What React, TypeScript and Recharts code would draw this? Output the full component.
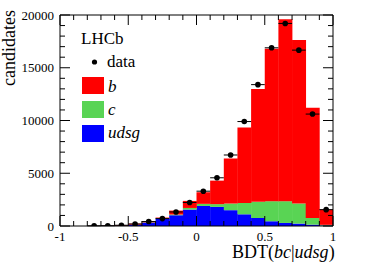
import React from 'react';
import { ComposedChart, Bar, Scatter, XAxis, YAxis, ErrorBar } from 'recharts';

// bin centres of the BDT(bc|udsg) histogram, width 0.1
const binCenters = [-0.95, -0.85, -0.75, -0.65, -0.55, -0.45, -0.35, -0.25, -0.15, -0.05,
  0.05, 0.15, 0.25, 0.35, 0.45, 0.55, 0.65, 0.75, 0.85, 0.95];
const udsgCounts = [0, 0, 5, 10, 30, 120, 320, 700, 1020, 1560, 1900, 1810, 1500, 1110, 760, 450, 290, 230, 130, 50];
const cCounts = [0, 0, 0, 0, 5, 10, 30, 40, 70, 150, 200, 260, 630, 1080, 1530, 1900, 2060, 1900, 630, 60];
const bCounts = [0, 0, 10, 20, 45, 90, 100, 60, 370, 670, 1100, 2230, 4270, 7140, 10700, 14450, 17240, 15490, 10440, 1450];

// data points
const dataX = [-0.75, -0.65, -0.55, -0.45, -0.35, -0.25, -0.15, -0.05, 0.05, 0.15,
  0.25, 0.35, 0.45, 0.55, 0.65, 0.75, 0.85, 0.95];
const dataCounts = [20, 30, 70, 190, 420, 700, 1330, 2230, 3300, 4570,
  6730, 9900, 13400, 16890, 19200, 16670, 10610, 1550];
const binHalfWidth = 0.05;

const xTicks = [-1, -0.9, -0.8, -0.7, -0.6, -0.5, -0.4, -0.3, -0.2, -0.1, 0,
  0.1, 0.2, 0.3, 0.4, 0.5, 0.6, 0.7, 0.8, 0.9, 1];
const yTicks = [0, 1000, 2000, 3000, 4000, 5000, 6000, 7000, 8000, 9000, 10000,
  11000, 12000, 13000, 14000, 15000, 16000, 17000, 18000, 19000, 20000];

const RED = '#ff0000';
const GREEN = '#59d454';
const BLUE = '#0000ff';
const FONT = '"Liberation Serif", "DejaVu Serif", serif';
const serif = { fontFamily: FONT };

const histData = binCenters.map((bin, i) => ({
  bin,
  udsg: udsgCounts[i],
  c: cCounts[i],
  b: bCounts[i],
}));

const points = dataX.map((bin, i) => ({ bin, y: dataCounts[i], ex: binHalfWidth }));

const isMajorX = (v: number) => Math.abs(v * 2 - Math.round(v * 2)) < 1e-6;
const isMajorY = (v: number) => v % 5000 === 0;

// ticks drawn inside the frame, like ROOT does
const AxisTick = ({ x, y, payload, side }: any) => {
  const v = payload.value;
  const off = 6;
  if (side === 'left' || side === 'right') {
    const len = isMajorY(v) ? 10 : 5;
    const ax = side === 'left' ? x + off : x - off;
    const x2 = side === 'left' ? ax + len : ax - len;
    return (
      <g>
        <line x1={ax} y1={y} x2={x2} y2={y} stroke="#000" strokeWidth={1} />
        {side === 'left' && isMajorY(v) && (
          <text x={x} y={y} dy="0.355em" textAnchor="end" style={serif} fontSize={13} fill="#000">
            {String(v)}
          </text>
        )}
      </g>
    );
  }
  const len = isMajorX(v) ? 10 : 5;
  const ay = side === 'bottom' ? y - off : y + off;
  const y2 = side === 'bottom' ? ay - len : ay + len;
  return (
    <g>
      <line x1={x} y1={ay} x2={x} y2={y2} stroke="#000" strokeWidth={1} />
      {side === 'bottom' && isMajorX(v) && (
        <text x={x} y={y} dy="0.71em" textAnchor="middle" style={serif} fontSize={13} fill="#000">
          {String(v)}
        </text>
      )}
    </g>
  );
};

const Dot = ({ cx, cy }: any) => <circle cx={cx} cy={cy} r={2.8} fill="#000" />;

export default function App() {
  return (
    <div style={{ position: 'relative', width: 392, height: 266, background: '#fff' }}>
      <style>{'body{margin:0}'}</style>
      <ComposedChart
        width={392}
        height={266}
        data={histData}
        margin={{ top: 14, right: 58, left: 0, bottom: 0 }}
        barCategoryGap={0}
        barGap={0}
      >
        <XAxis
          xAxisId="num"
          dataKey="bin"
          type="number"
          domain={[-1, 1]}
          ticks={xTicks}
          interval={0}
          allowDataOverflow
          height={40}
          tickSize={6}
          tickMargin={0}
          tickLine={false}
          axisLine={{ stroke: '#000' }}
          tick={(p: any) => <AxisTick {...p} side="bottom" />}
        />
        <XAxis
          xAxisId="top"
          dataKey="bin"
          orientation="top"
          type="number"
          domain={[-1, 1]}
          ticks={xTicks}
          interval={0}
          allowDataOverflow
          height={1}
          tickSize={6}
          tickMargin={0}
          tickLine={false}
          axisLine={{ stroke: '#000' }}
          tick={(p: any) => <AxisTick {...p} side="top" />}
        />
        <YAxis
          yAxisId="left"
          type="number"
          domain={[0, 20000]}
          ticks={yTicks}
          interval={0}
          allowDataOverflow
          width={60}
          tickSize={6}
          tickMargin={0}
          tickLine={false}
          axisLine={{ stroke: '#000' }}
          tick={(p: any) => <AxisTick {...p} side="left" />}
        />
        <YAxis
          yAxisId="right"
          orientation="right"
          type="number"
          domain={[0, 20000]}
          ticks={yTicks}
          interval={0}
          allowDataOverflow
          width={1}
          tickSize={6}
          tickMargin={0}
          tickLine={false}
          axisLine={{ stroke: '#000' }}
          tick={(p: any) => <AxisTick {...p} side="right" />}
        />
        <Bar xAxisId="num" yAxisId="left" dataKey="udsg" stackId="mc" fill={BLUE} isAnimationActive={false} />
        <Bar xAxisId="num" yAxisId="left" dataKey="c" stackId="mc" fill={GREEN} isAnimationActive={false} />
        <Bar xAxisId="num" yAxisId="left" dataKey="b" stackId="mc" fill={RED} isAnimationActive={false} />
        <Scatter
          xAxisId="num"
          yAxisId="left"
          data={points}
          dataKey="y"
          shape={<Dot />}
          isAnimationActive={false}
        >
          <ErrorBar dataKey="ex" direction="x" width={0} stroke="#000" strokeWidth={1} isAnimationActive={false} />
        </Scatter>
      </ComposedChart>
      <svg
        width={392}
        height={266}
        style={{ position: 'absolute', left: 0, top: 0, pointerEvents: 'none', fontFamily: FONT }}
      >
        <text x={-10} y={15} transform="rotate(-90)" textAnchor="end" fontSize={18} style={serif} fill="#000">
          candidates
        </text>
        <text x={232} y={258} fontSize={18} style={serif} fill="#000">
          BDT(<tspan fontStyle="italic">bc</tspan>|<tspan fontStyle="italic">udsg</tspan>)
        </text>
        <text x={81} y={44} fontSize={17} style={serif} fill="#000">LHCb</text>
        <circle cx={94.5} cy={62} r={2.6} fill="#000" />
        <text x={107} y={67} fontSize={17} style={serif} fill="#000">data</text>
        <rect x={82} y={77} width={22} height={17} fill={RED} />
        <text x={108} y={92} fontSize={17} fontStyle="italic" style={serif} fill="#000">b</text>
        <rect x={82} y={101} width={22} height={17} fill={GREEN} />
        <text x={108} y={115} fontSize={17} fontStyle="italic" style={serif} fill="#000">c</text>
        <rect x={82} y={125} width={22} height={17} fill={BLUE} />
        <text x={108} y={138} fontSize={17} fontStyle="italic" style={serif} fill="#000">udsg</text>
      </svg>
    </div>
  );
}
